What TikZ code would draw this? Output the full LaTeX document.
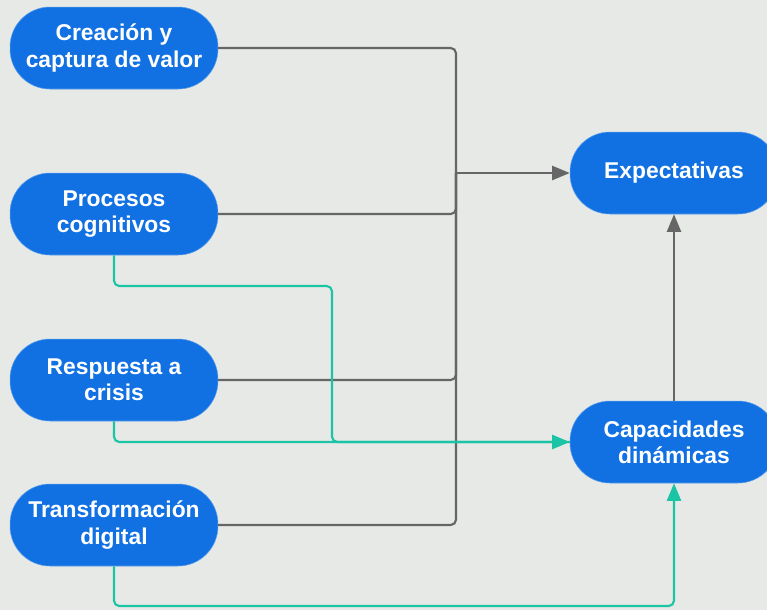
\documentclass[tikz,border=0pt]{standalone}
\usepackage{fontspec}
\setmainfont{Liberation Sans}
\usepackage{xcolor}
\definecolor{fondo}{RGB}{231,233,230}
\definecolor{azul}{RGB}{17,113,227}
\definecolor{gris}{RGB}{102,102,102}
\definecolor{verde}{RGB}{27,196,164}
\usetikzlibrary{arrows.meta}
\usetikzlibrary{positioning}
\usetikzlibrary{calc}

\begin{document}
\begin{tikzpicture}[x=0.02cm, y=-0.02cm,
		caja/.style={draw=azul!70!white, line width=0.3pt, fill=azul, text=white, rounded corners=0.8cm,
			minimum width=4.16cm, minimum height=1.64cm, align=center,
			font=\fontsize{13}{15}\selectfont\bfseries},
		linea/.style={gris, line width=1.2pt, rounded corners=3pt},
		lineav/.style={verde, line width=1.2pt, rounded corners=3pt},
		punta/.style={-{Triangle[length=10pt, width=8pt]}}]
				\useasboundingbox (0,0) rectangle (767,610);
				\fill[fondo] (0,0) rectangle (767,610);
				
				%nodes
				\node[caja] (valor) at (114,48) {Creación y\\captura de valor};
				\node[caja] (cognitivos) at (114,214) {Procesos\\cognitivos};
				\node[caja] (crisis) at (114,380) {Respuesta a\\crisis};
				\node[caja] (digital) at (114,525) {Transformación\\digital};
				\node[caja] (expect) at (674,173) {Expectativas};
				\node[caja] (capac) at (674,442) {Capacidades\\dinámicas};
				
				%bus points
				\coordinate (bus) at (456,173);
				\coordinate (giro) at (332,286);
				\coordinate (abajo) at (114,606);
				
				%gray lines
				\draw[linea] (valor.east) -| (bus);
				\draw[linea] (cognitivos.east) -| (bus);
				\draw[linea] (crisis.east) -| (bus);
				\draw[linea] (digital.east) -| (bus);
				\draw[linea, punta] (bus) -- (expect.west);
				\draw[linea, punta] (capac.north) -- (expect.south);
				
				%green lines
				\draw[lineav] (cognitivos.south) |- (giro) |- (capac.west);
				\draw[lineav, punta] (crisis.south) |- (capac.west);
				\draw[lineav, punta] (digital.south) -- (abajo) -| (capac.south);
			\end{tikzpicture}
\end{document}
